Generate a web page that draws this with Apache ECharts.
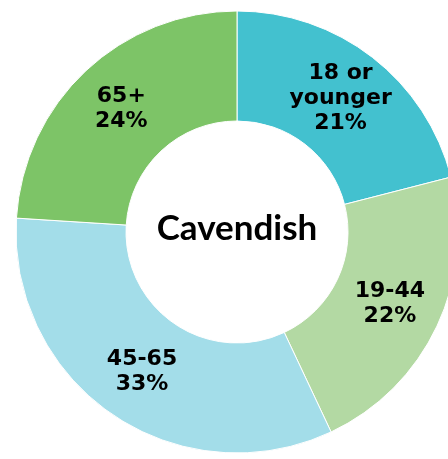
<!DOCTYPE html>
<html>
<head>
<meta charset="utf-8">
<script src="https://cdn.jsdelivr.net/npm/echarts@6/dist/echarts.min.js"></script>
<style>html,body{margin:0;padding:0;background:#fff;}#c{width:448px;height:459px;}</style>
</head>
<body>
<div id="c"></div>
<script>
const categories = ["18 or\nyounger", "19-44", "45-65", "65+"];
const values = [21, 22, 33, 24];
const colors = ["#43C1CF", "#B3D9A3", "#A3DDE9", "#7DC467"];
const centerTitle = "Cavendish";

const chart = echarts.init(document.getElementById('c'), null, {renderer: 'canvas'});
chart.setOption({
  animation: false,
  backgroundColor: '#ffffff',
  graphic: [{
    type: 'text',
    x: 237, y: 229,
    z: 100,
    style: {
      text: centerTitle,
      align: 'center',
      verticalAlign: 'middle',
      fontFamily: 'Lato',
      fontWeight: 'bold',
      fontSize: 35,
      fill: '#000'
    }
  }],
  series: [{
    type: 'pie',
    center: [237, 232],
    radius: [111, 221],
    startAngle: 90,
    clockwise: true,
    avoidLabelOverlap: false,
    itemStyle: {borderColor: '#ffffff', borderWidth: 1},
    label: {
      show: true,
      position: 'inside',
      formatter: p => p.name + '\n' + p.value + '%',
      fontFamily: 'DejaVu Sans',
      fontWeight: 'bold',
      fontSize: 22,
      lineHeight: 25,
      color: '#000',
      textBorderWidth: 0
    },
    labelLine: {show: false},
    emphasis: {disabled: true},
    data: categories.map((c, i) => ({name: c, value: values[i], itemStyle: {color: colors[i]}}))
  }]
});
</script>
</body>
</html>
